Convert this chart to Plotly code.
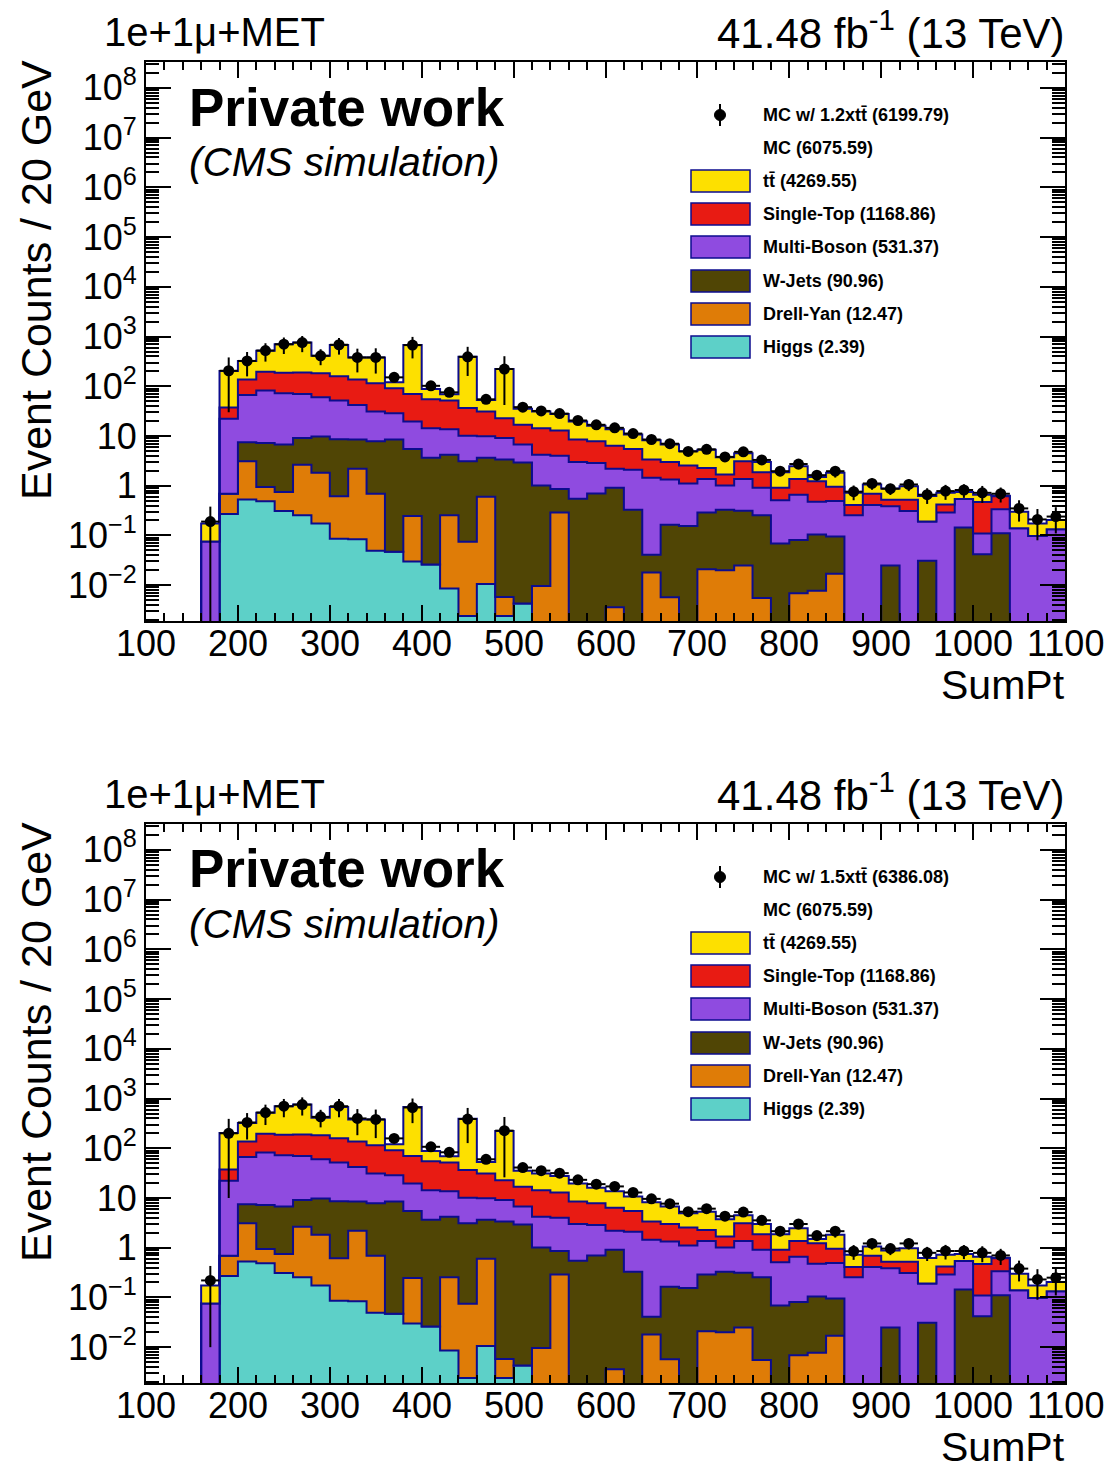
import plotly.graph_objects as go

# ---------------------------------------------------------------- data
# SumPt binning: 20 GeV bins from 100 to 1100 GeV
bin_edges = list(range(100, 1101, 20))
bin_centres = [e + 10 for e in bin_edges[:-1]]
x_tick_values = list(range(100, 1101, 100))

higgs = [0, 0, 0, 0,
         0.27, 0.53, 0.49, 0.31, 0.255, 0.173, 0.086, 0.084, 0.049, 0.047,
         0.030, 0.026, 0.0086, 0.0024, 0.0106, 0.0024, 0.0043,
         0, 0, 0, 0, 0, 0, 0, 0, 0, 0, 0, 0, 0, 0, 0, 0, 0, 0, 0, 0, 0, 0,
         0, 0, 0, 0, 0, 0, 0]

drell_yan = [0, 0, 0, 0,
             0.42, 2.57, 0.45, 0.44, 2.38, 1.65, 0.53, 2.1, 0.64, 0,
             0.216, 0, 0.246, 0.072, 0.59, 0.0034, 0, 0.0096, 0.29, 0,
             0, 0.0036, 0, 0.018, 0.0057, 0, 0.021, 0.020, 0.025, 0.0055,
             0, 0.0069, 0.0077, 0.017,
             0, 0, 0, 0, 0, 0, 0, 0, 0, 0, 0, 0]

w_jets = [0, 0, 0, 0,
          0, 4.37, 6.25, 5.99, 6.46, 8.0, 8.03, 6.28, 7.13, 8.42,
          5.21, 3.61, 3.93, 3.02, 3.04, 3.36, 2.91, 1.0, 0.57, 0.55,
          0.70, 0.91, 0.33, 0.023, 0.158, 0.155, 0.27, 0.31, 0.29, 0.25,
          0.069, 0.074, 0.097, 0.078, 0, 0, 0.025, 0, 0.031, 0,
          0.144, 0.042, 0.111, 0, 0, 0]

multi_boson = [0, 0, 0, 0.076,
               21.5, 59.4, 74.7, 65.2, 61, 50.2, 43.2, 33.4, 23.1, 20.3,
               14.2, 10.7, 9.46, 7.0, 6.19, 5.73, 3.82, 3.18, 3.14, 2.46,
               2.17, 1.27, 1.77, 1.40, 1.17, 0.955, 1.07, 0.68, 1.05, 0.66,
               0.44, 0.58, 0.37, 0.40, 0.255, 0.41, 0.36, 0.31, 0.16, 0.29,
               0.40, 0.067, 0.226, 0.139, 0.098, 0.134]

single_top = [0, 0, 0, 0,
              15.1, 70.5, 114, 116, 120, 122, 108, 95.5, 83.7, 62.2,
              50.4, 40.2, 38.2, 26.3, 21.1, 13.7, 10.1, 10.2, 8.92, 5.46,
              4.95, 4.19, 3.37, 1.93, 1.67, 1.44, 0.91, 0.67, 1.73, 0.96,
              0.40, 0.71, 0.76, 0.46, 0.155, 0.28, 0.14, 0.21, 0, 0.13,
              0, 0.36, 0.28, 0, 0, 0]

ttbar = [0, 0, 0, 0.097,
         166, 183, 320, 513, 565, 228, 513, 242, 265, 29.1,
         603, 33.7, 17.3, 355, 21.8, 199, 18.3, 16.6, 14.9, 11.2,
         8.19, 7.28, 5.19, 4.82, 3.73, 2.37, 3.0, 2.05, 1.41, 1.13,
         0.96, 1.08, 0.27, 0.86, 0.31, 0.37, 0.35, 0.46, 0.43, 0.30,
         0.20, 0.19, 0.009, 0.16, 0.075, 0.071]

# pseudo-data: MC with the ttbar contribution scaled up
data_12 = [None, None, None, 0.19,
           205, 323, 523, 700, 755, 410, 683, 380, 380, 151,
           673, 102, 75.5, 391, 54.6, 222, 38, 31.9, 28.2, 20.5,
           16.8, 14.6, 11.2, 8.5, 7.0, 4.9, 5.4, 3.8, 4.8, 3.3,
           1.96, 2.73, 1.63, 1.96, 0.76, 1.11, 0.87, 1.06, 0.66, 0.78,
           0.82, 0.72, 0.69, 0.35, 0.21, 0.24]
err_12 = [None, None, None, 0.19,
          175, 165, 210, 255, 270, 145, 250, 190, 200, 12,
          310, 9, 7, 230, 5, 180, 3, 2.5, 2.3, 1.9,
          1.7, 1.5, 1.3, 1.1, 1.0, 0.8, 0.9, 0.7, 0.8, 0.6,
          0.4, 0.6, 0.35, 0.5, 0.25, 0.28, 0.22, 0.28, 0.23, 0.26,
          0.25, 0.27, 0.23, 0.16, 0.13, 0.13]

data_15 = [None, None, None, 0.22,
           200, 330, 523, 700, 755, 428, 700, 398, 380, 158,
           660, 107, 83, 387, 60, 226, 41, 35.5, 31.6, 23.2,
           19, 17.1, 12.9, 9.6, 7.7, 5.3, 6.1, 4.3, 5.2, 3.55,
           2.15, 3.0, 1.76, 2.15, 0.85, 1.22, 0.96, 1.22, 0.79, 0.86,
           0.86, 0.79, 0.70, 0.38, 0.23, 0.25]
err_15 = [None, None, None, 0.21,
          190, 180, 230, 280, 300, 165, 280, 215, 220, 14,
          340, 10, 8, 260, 6, 200, 3.5, 3, 2.6, 2.1,
          1.9, 1.7, 1.4, 1.2, 1.1, 0.9, 1.0, 0.8, 0.9, 0.65,
          0.45, 0.65, 0.4, 0.55, 0.28, 0.3, 0.25, 0.3, 0.25, 0.28,
          0.27, 0.28, 0.25, 0.17, 0.14, 0.14]

# stack, bottom to top
layers = [
    ("Higgs", higgs, "#5dd0c8", "2.39"),
    ("Drell-Yan", drell_yan, "#df7c07", "12.47"),
    ("W-Jets", w_jets, "#504505", "90.96"),
    ("Multi-Boson", multi_boson, "#8f4be0", "531.37"),
    ("Single-Top", single_top, "#e81b13", "1168.86"),
    ("t\u0074\u0304", ttbar, "#fde000", "4269.55"),
]
mc_total_label = "6075.59"
panels_info = [
    ("MC w/ 1.2xt\u0074\u0304", "6199.79", data_12, err_12),
    ("MC w/ 1.5xt\u0074\u0304", "6386.08", data_15, err_15),
]

# ---------------------------------------------------------------- layout helpers
W, H = 1117, 1470
FRAME_L, FRAME_R = 146, 1065
PANEL_TOPS = [62, 824]
PANEL_H = 559
FLOOR = 1e-6
OUTLINE = "#0c0c8e"
FONT = "Liberation Sans, Arial, Helvetica, sans-serif"


def fx(p):
    return p / W


def fy(p):
    return 1 - p / H


def label(text, x, y, size, xanchor="left", angle=0, xref="paper"):
    return dict(text=text, x=(x if xref != "paper" else fx(x)), y=fy(y),
                xref=xref, yref="paper",
                xanchor=xanchor, yanchor="middle", showarrow=False,
                textangle=angle, borderpad=0,
                font=dict(family=FONT, size=size, color="black"))


fig = go.Figure()
annotations = []
shapes = []

step_x = bin_edges[:-1] + [bin_edges[-1]]

minor_y = [k * 10.0 ** n for n in range(-3, 9) for k in range(2, 10)]
major_y = [10.0 ** n for n in range(-2, 9)]
major_y_text = ["10<sup>\u22122</sup>", "10<sup>\u22121</sup>", "1", "10"] + \
               ["10<sup>%d</sup>" % n for n in range(2, 9)]

for ip, (dlabel, dtotal, dvals, derr) in enumerate(panels_info):
    xa = "x" if ip == 0 else "x2"
    ya = "y" if ip == 0 else "y2"
    dy = PANEL_TOPS[ip] - PANEL_TOPS[0]

    # baseline for the first filled layer
    fig.add_trace(go.Scatter(x=step_x, y=[FLOOR] * len(step_x), mode="lines",
                             line=dict(width=0), hoverinfo="skip",
                             showlegend=False, xaxis=xa, yaxis=ya))
    cum = [0.0] * len(bin_centres)
    for name, vals, color, tot in layers:
        cum = [c + v for c, v in zip(cum, vals)]
        yy = [max(c, FLOOR) for c in cum]
        yy = yy + [yy[-1]]
        fig.add_trace(go.Scatter(x=step_x, y=yy, mode="lines",
                                 line=dict(shape="hv", color=OUTLINE, width=2),
                                 fill="tonexty", fillcolor=color,
                                 name=name, showlegend=False,
                                 xaxis=xa, yaxis=ya))

    errm = [None if (v is None) else min(e, 0.995 * v) for v, e in zip(dvals, derr)]
    fig.add_trace(go.Scatter(
        x=bin_centres, y=dvals, mode="markers",
        marker=dict(color="black", size=11, symbol="circle"),
        error_y=dict(type="data", array=derr, arrayminus=errm, color="black",
                     thickness=2, width=0),
        error_x=dict(type="constant", value=10, color="black", thickness=2, width=0),
        showlegend=False, xaxis=xa, yaxis=ya))

    top = PANEL_TOPS[ip]
    bot = top + PANEL_H
    axis_common = dict(showline=True, linecolor="black", linewidth=2,
                       mirror="allticks", ticks="inside", tickcolor="black",
                       tickwidth=1.5, showgrid=False, zeroline=False,
                       tickfont=dict(family=FONT, size=36, color="black"),
                       automargin=False)
    fig.layout[("xaxis" if ip == 0 else "xaxis2")] = dict(
        domain=[fx(FRAME_L), fx(FRAME_R)], range=[100, 1100], anchor=ya,
        tickmode="array", tickvals=x_tick_values, showticklabels=False, ticklen=16,
        minor=dict(tickmode="array", tickvals=list(range(100, 1101, 20)),
                   ticks="inside", ticklen=8, tickcolor="black", tickwidth=1.5),
        **axis_common)
    fig.layout[("yaxis" if ip == 0 else "yaxis2")] = dict(
        domain=[fy(bot), fy(top)], type="log", range=[-2.72, 8.52], anchor=xa,
        tickmode="array", tickvals=major_y, ticktext=major_y_text, ticklen=25,
        minor=dict(tickmode="array", tickvals=minor_y, ticks="inside",
                   ticklen=13, tickcolor="black", tickwidth=1.5),
        **axis_common)

    # x tick labels, placed close under the frame
    for v in x_tick_values:
        annotations.append(label(str(v), v, bot + 22, 36, xanchor="center", xref=xa))

    # header texts
    annotations.append(label("1e+1\u03bc+MET", 103, 32 + dy, 40))
    annotations.append(label("41.48 fb<sup>-1</sup> (13 TeV)", 1066, 30 + dy, 42,
                             xanchor="right"))
    annotations.append(label("<b>Private work</b>", 188, 107 + dy, 53))
    annotations.append(label("<i>(CMS simulation)</i>", 188, 162 + dy, 40.5))
    annotations.append(label("SumPt", 1066, 685 + dy, 41, xanchor="right"))
    annotations.append(label("Event Counts / 20 GeV", 36, 280 + dy, 43,
                             xanchor="center", angle=-90))

    # legend
    rows = [115, 148, 181, 214, 247, 281, 314, 347]
    annotations.append(label("<b>%s (%s)</b>" % (dlabel, dtotal), 762, rows[0] + dy, 18))
    shapes.append(dict(type="line", xref="paper", yref="paper",
                       x0=fx(720), x1=fx(720), y0=fy(rows[0] + dy - 11),
                       y1=fy(rows[0] + dy + 11), line=dict(color="black", width=2)))
    shapes.append(dict(type="circle", xref="paper", yref="paper",
                       x0=fx(714.5), x1=fx(725.5), y0=fy(rows[0] + dy - 5.5),
                       y1=fy(rows[0] + dy + 5.5), fillcolor="black",
                       line=dict(color="black", width=1)))
    annotations.append(label("<b>MC (%s)</b>" % mc_total_label, 762, rows[1] + dy, 18))
    for r, (name, vals, color, tot) in zip(rows[2:], reversed(layers)):
        shapes.append(dict(type="rect", xref="paper", yref="paper",
                           x0=fx(691), x1=fx(750), y0=fy(r + dy + 11),
                           y1=fy(r + dy - 11), fillcolor=color,
                           line=dict(color=OUTLINE, width=1.5)))
        annotations.append(label("<b>%s (%s)</b>" % (name, tot), 762, r + dy, 18))

fig.update_layout(width=W, height=H, margin=dict(l=0, r=0, t=0, b=0),
                  paper_bgcolor="white", plot_bgcolor="white",
                  annotations=annotations, shapes=shapes, showlegend=False)

fig.write_html("out.html")
